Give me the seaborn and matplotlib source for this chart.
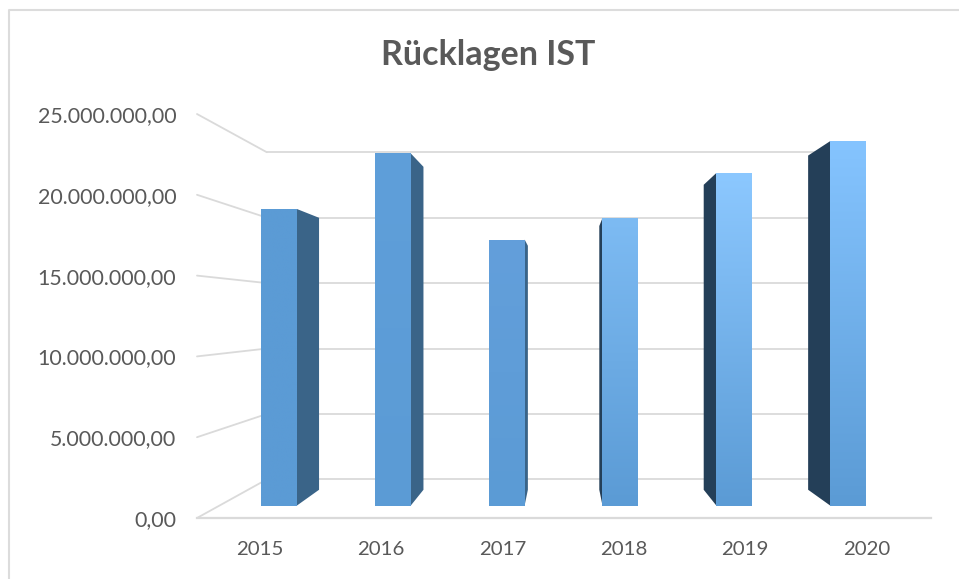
#!/usr/bin/env python3

import numpy as np
import matplotlib
matplotlib.use('Agg')
import matplotlib.pyplot as plt
from matplotlib.colors import LinearSegmentedColormap
from matplotlib.lines import Line2D
from matplotlib.patches import Polygon
from matplotlib.transforms import IdentityTransform
import seaborn as sns

years = ['2015', '2016', '2017', '2018', '2019', '2020']
ruecklagen = [19530000, 23190000, 17520000, 18940000, 21900000, 24000000]
y_ticks = [0, 5000000, 10000000, 15000000, 20000000, 25000000]

# front face gets lighter towards the top the further right the bar stands
top_colors = ['#5B9BD5', '#5F9FDA', '#639FDB', '#7DBBF3', '#8CC8FF', '#85C4FF']
bottom_color = '#5B9BD5'
right_side = '#3A6488'
left_side = '#243F58'
grid_color = '#DADADA'
text_color = '#595959'

W, H = 959, 579
VANISH = (564, 315)   # the fake 3D view runs towards this pixel
DEPTH_BAR = 0.0826    # bar depth, as share of the way to VANISH
DEPTH_WALL = 0.19     # back wall, measured from the front plane


def px(x, y):
  return (x, H - y)


def add_axes_px(fig, left, right, top, bottom):
  return fig.add_axes([left / W, (H - bottom) / H, (right - left) / W, (bottom - top) / H])


def to_vanish(points, depth):
  points = np.asarray(points, dtype=float)
  return points + depth * (np.array(px(*VANISH)) - points)


def german(v):
  return f'{v:,.2f}'.replace(',', ' ').replace('.', ',').replace(' ', '.')


sns.set_theme(style='white')
plt.rcParams['font.family'] = ['Lato', 'DejaVu Sans']

fig = plt.figure(figsize=(W / 100, H / 100), dpi=100)

# front plane of the chart: this one owns the tick labels and the axis line
frame = add_axes_px(fig, 197, 931, 114, 518)
frame.patch.set_alpha(0)
frame.set_xlim(-0.519, 5.532)
frame.set_ylim(0, 25000000)
frame.set_xticks(range(len(years)), years)
frame.set_yticks(y_ticks, [german(v) for v in y_ticks])
frame.tick_params(axis='y', length=0, pad=15, labelsize=15.4, labelcolor=text_color)
frame.tick_params(axis='x', length=0, pad=16.5, labelsize=14.7, labelcolor=text_color)
sns.despine(ax=frame, left=True, top=True, right=True)
frame.spines['bottom'].set_color(grid_color)
frame.spines['bottom'].set_linewidth(1.6)

# wall gridlines and the lines running from the labels to the wall
for v in y_ticks:
  front = frame.transData.transform([(-0.519, v), (5.532, v)])
  back = to_vanish(front, DEPTH_WALL)
  for seg in ([front[0], back[0]], [back[0], back[1]]):
    seg = np.array(seg)
    frame.add_line(Line2D(seg[:, 0], seg[:, 1], color=grid_color, lw=1.3,
                          transform=IdentityTransform(), zorder=1, clip_on=False))

# plane of the bars, a bit behind the front plane
ax = add_axes_px(fig, 222.1, 905, 126, 505.5)
ax.patch.set_alpha(0)
sns.barplot(x=years, y=ruecklagen, ax=ax, color=bottom_color, saturation=1, width=0.316,
            linewidth=0, zorder=3)
ax.set_xlim(-0.5, 5.5)
ax.set_ylim(0, 25000000)
ax.axis('off')

center_px = VANISH[0]
for bar, top in zip(ax.patches, top_colors):
  x0, x1 = bar.get_x(), bar.get_x() + bar.get_width()
  h = bar.get_height()

  # side face, on whichever side looks towards the vanishing point
  corners = ax.transData.transform([(x0, 0), (x0, h), (x1, h), (x1, 0)])
  if corners[2][0] < center_px:
    edge, color = corners[[3, 2]], right_side
  else:
    edge, color = corners[[0, 1]], left_side
  back = to_vanish(edge, DEPTH_BAR)
  ax.add_patch(Polygon(np.vstack([edge, back[::-1]]), closed=True, facecolor=color, edgecolor='none',
                       transform=IdentityTransform(), zorder=2, clip_on=False))

  # gradient on the front face
  cmap = LinearSegmentedColormap.from_list('bar', [bottom_color, top])
  im = ax.imshow(np.linspace(1, 0, 128).reshape(-1, 1), cmap=cmap, vmin=0, vmax=1, aspect='auto',
                 extent=(x0, x1, 0, h), zorder=4, interpolation='bilinear')
  im.set_clip_path(bar)

ax.set_xlim(-0.5, 5.5)
ax.set_ylim(0, 25000000)

fig.text(488 / W, 1 - 55 / H, 'Rücklagen IST', ha='center', va='center',
         fontsize=24.5, fontweight='bold', color=text_color)

# chart border, cut off by the screenshot on the right and at the bottom
fig.add_artist(Line2D([9 / W, 9 / W, 1], [0, 1 - 10 / H, 1 - 10 / H], color='#DCDCDC', lw=1.5))

fig.savefig('out.png', dpi=100)
